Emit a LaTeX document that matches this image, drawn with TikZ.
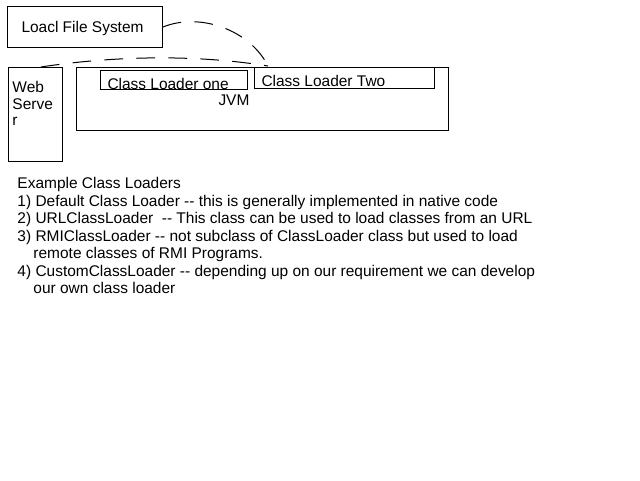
\documentclass[tikz,border=0pt]{standalone}
\usepackage{fontspec}
\setmainfont{Liberation Sans}
\begin{document}
\begin{tikzpicture}[x=0.75pt,y=-0.75pt,line width=0.75pt,
  box/.style={draw,rectangle,inner sep=0pt,anchor=north west},
  txt/.style={anchor=base west,inner sep=0pt,font=\fontsize{11.6}{13}\selectfont},
  dashline/.style={dash pattern=on 14pt off 10pt}]
\useasboundingbox (0,0) rectangle (640,480);
% boxes
\node[box,minimum width=155*0.75pt,minimum height=41*0.75pt] (lfs) at (7,6) {};
\node[box,minimum width=54*0.75pt,minimum height=94*0.75pt] (web) at (8,67) {};
\node[box,minimum width=372*0.75pt,minimum height=63*0.75pt] (jvm) at (76,67) {};
\node[box,minimum width=147*0.75pt,minimum height=19*0.75pt] (cl1) at (100,70) {};
\node[box,minimum width=180*0.75pt,minimum height=21*0.75pt] (cl2) at (254,67) {};
% box texts
\node[txt] (lfst) at (21,32) {Loacl File System};
\node[txt] (web1) at (12,92) {Web};
\node[txt] (web2) at (12,109) {Serve};
\node[txt] (web3) at (12,125) {r};
\node[txt] (jvmt) at (218,105) {JVM};
\node[txt] (cl1t) at (107,89) {Class Loader one};
\node[txt] (cl2t) at (261,86) {Class Loader Two};
% dashed connectors
\coordinate (meet) at (268,66);
\draw[dashline] (lfs.east) .. controls (200,12) and (250,30) .. (meet);
\draw[dashline] ([xshift=4pt]web.north) .. controls (120,55) and (200,55) .. (meet);
% list
\node[txt] (l0) at (17,188) {Example Class Loaders};
\node[txt] (l1) at (17,206) {1) Default Class Loader -{}- this is generally implemented in native code};
\node[txt] (l2) at (17,223) {2) URLClassLoader\ \ -{}- This class can be used to load classes from an URL};
\node[txt] (l3) at (17,241) {3) RMIClassLoader -{}- not subclass of ClassLoader class but used to load};
\node[txt] (l3b) at (33,258) {remote classes of RMI Programs.};
\node[txt] (l4) at (17,276) {4) CustomClassLoader -{}- depending up on our requirement we can develop};
\node[txt] (l4b) at (33,293) {our own class loader};
\end{tikzpicture}
\end{document}
